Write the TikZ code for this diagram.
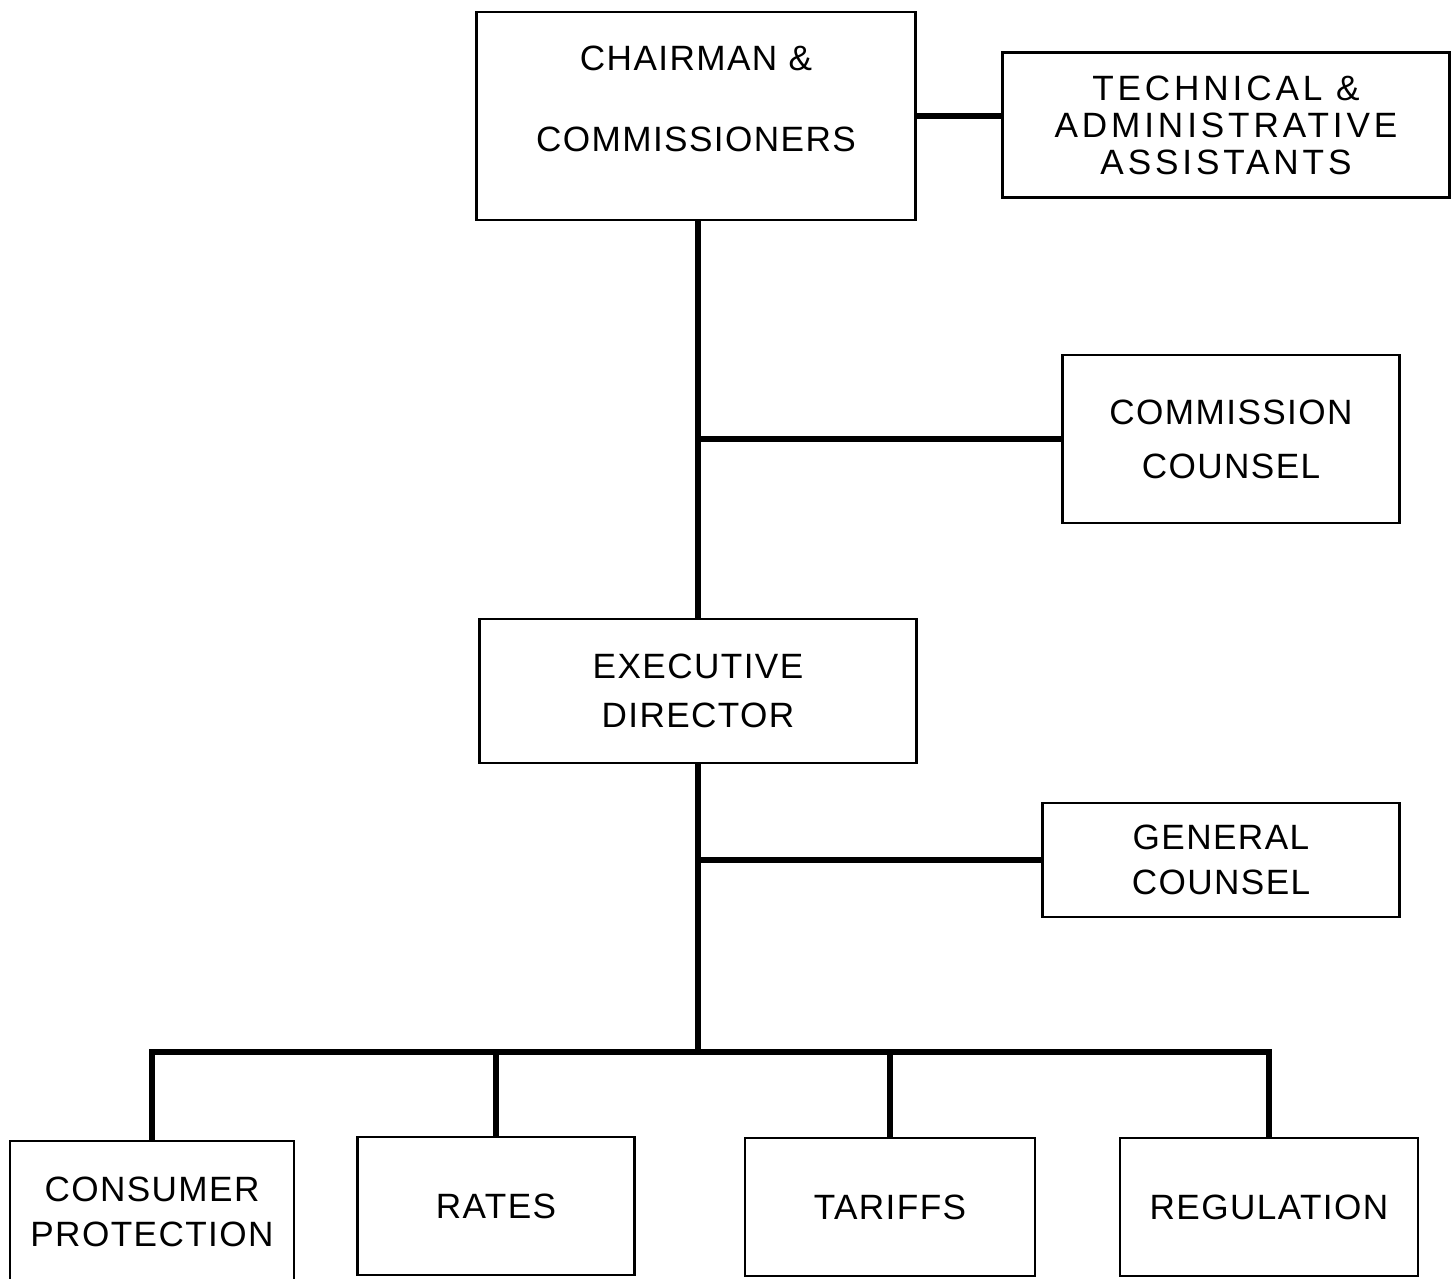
\documentclass[tikz,border=0pt]{standalone}
\usepackage{fontspec}
\setmainfont[LetterSpace=4]{Liberation Sans}
\newfontfamily\widefont[LetterSpace=11]{Liberation Sans}
\tikzstyle{line} = [draw, line width=1.7pt]
\tikzstyle{block} = [rectangle, draw, line width=0.8pt, inner sep=0pt, outer sep=0pt,
  align=center, font=\fontsize{10}{12}\selectfont]
\tikzstyle{unit} = [block, minimum height=1.38cm]
\begin{document}
\begin{tikzpicture}[x=0.01cm, y=-0.01cm]

      \useasboundingbox (0,0) rectangle (1453,1279);

      %
      % Top
      %

      \node [block, minimum width=4.38cm, minimum height=2.08cm] (chair) at (696,116)
        {CHAIRMAN \&\\[11pt]COMMISSIONERS\\[-2pt]\mbox{}};
      \node [block, minimum width=4.46cm, minimum height=1.45cm] (tech) at (1226,125)
        {\widefont TECHNICAL \&\\[-1.5pt]\widefont ADMINISTRATIVE\\[-1.5pt]\widefont ASSISTANTS};
      \node [block, minimum width=3.36cm, minimum height=1.68cm] (cc) at (1231,439)
        {COMMISSION\\[3.3pt]COUNSEL};
      \node [block, minimum width=4.37cm, minimum height=1.44cm] (exec) at (698,691)
        {EXECUTIVE\\[2pt]DIRECTOR};
      \node [block, minimum width=3.56cm, minimum height=1.14cm] (gc) at (1221,860)
        {GENERAL\\[0.8pt]COUNSEL};

      %
      % Divisions
      %

      \node [unit, minimum width=2.84cm, minimum height=1.42cm] (cp) at (152,1212)
        {CONSUMER\\[1pt]PROTECTION};
      \node [unit, minimum width=2.77cm] (rates) at (496,1206) {RATES};
      \node [unit, minimum width=2.90cm] (tariffs) at (890,1207) {TARIFFS};
      \node [unit, minimum width=2.98cm] (reg) at (1269,1207) {REGULATION};

      \coordinate (bus) at (698,1052);
      \coordinate (cjoin) at (exec.north |- cc.west);
      \coordinate (gjoin) at (exec.south |- gc.west);

      \path [line] (chair.east) -- (tech.west |- chair.east);
      \path [line] (exec.north |- chair.south) -- (exec.north);
      \path [line] (cjoin) -- (cc.west);
      \path [line] (exec.south) -- (exec.south |- bus);
      \path [line] (gjoin) -- (gc.west);
      \path [line] (cp.north) -- (cp.north |- bus) -- (reg.north |- bus) -- (reg.north);
      \path [line] (rates.north) -- (rates.north |- bus);
      \path [line] (tariffs.north) -- (tariffs.north |- bus);

    \end{tikzpicture}
\end{document}
